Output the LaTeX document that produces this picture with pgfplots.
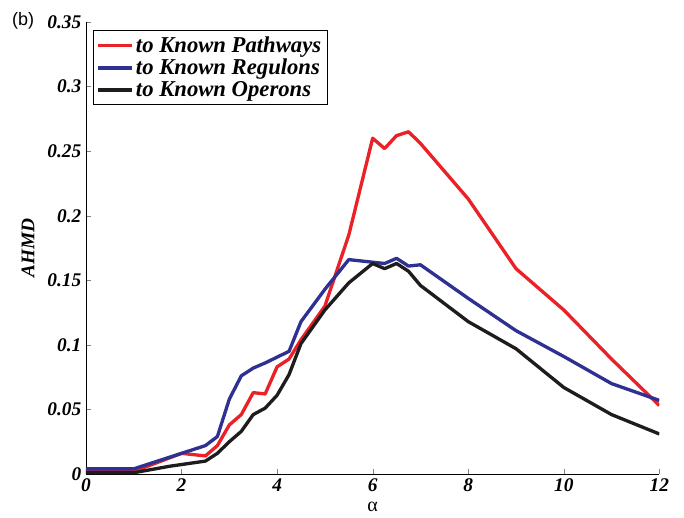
\documentclass[border=0pt]{standalone}
\usepackage{fontspec}
\setmainfont{Liberation Serif}
\newfontfamily\arial{Liberation Sans}
\usepackage{pgfplots}
\pgfplotsset{compat=1.18}
\definecolor{cred}{RGB}{234,34,40}
\definecolor{cblue}{RGB}{46,49,146}
\definecolor{cblack}{RGB}{30,28,28}

\begin{document}
\begin{tikzpicture}
\path[use as bounding box] (-64.5pt,-32.25pt) rectangle (448.5pt,355.5pt);
\begin{axis}[
    scale only axis,
    width=430pt, height=339pt,
    xmin=0, xmax=12, ymin=0, ymax=0.35,
    axis lines*=left,
    tick align=inside,
    major tick length=4pt,
    xtick={0,2,...,12},
    ytick={0,0.05,0.1,0.15,0.2,0.25,0.3,0.35},
    yticklabels={0,0.05,0.1,0.15,0.2,0.25,0.3,0.35},
    /pgf/number format/assume math mode=true,
    tick label style={font=\fontsize{14.5}{16}\selectfont\bfseries\itshape},
    xlabel={α},
    xlabel style={font=\fontsize{15}{16}\selectfont, yshift=-1pt},
    ylabel={AHMD},
    ylabel style={font=\fontsize{14.5}{16}\selectfont\bfseries\itshape, yshift=3pt},
    legend style={at={(0,1)}, anchor=north west, xshift=5pt, yshift=-6pt,
        draw=black, line width=1pt, font=\fontsize{17}{18.5}\selectfont\bfseries\itshape,
        row sep=-0.5pt, inner sep=2.5pt},
    legend cell align=left,
    legend image code/.code={\draw[#1] (0pt,0pt) -- (25pt,0pt);},
    every axis plot/.append style={line width=2.5pt, line join=round},
]
\addplot[cred] coordinates {
(0,0.002) (1,0.002) (2,0.016) (2.5,0.014) (2.75,0.022) (3,0.038) (3.25,0.046)
(3.5,0.063) (3.75,0.062) (4,0.083) (4.25,0.089) (4.5,0.104) (5,0.130) (5.5,0.185)
(6,0.260) (6.25,0.252) (6.5,0.262) (6.75,0.265) (7,0.256) (8,0.213) (9,0.159)
(10,0.127) (11,0.089) (12,0.053)
};
\addlegendentry{to Known Pathways}
\addplot[cblue] coordinates {
(0,0.004) (1,0.004) (1.75,0.013) (2.5,0.022) (2.75,0.029) (3,0.058) (3.25,0.076)
(3.5,0.082) (3.75,0.086) (4.25,0.095) (4.5,0.118) (5,0.143) (5.5,0.166)
(6.25,0.163) (6.5,0.167) (6.75,0.161) (7,0.162) (8,0.136) (9,0.111)
(10,0.091) (11,0.070) (12,0.057)
};
\addlegendentry{to Known Regulons}
\addplot[cblack] coordinates {
(0,0.001) (1,0.001) (1.75,0.006) (2.5,0.010) (2.75,0.016) (3,0.025) (3.25,0.033)
(3.5,0.046) (3.75,0.051) (4,0.061) (4.25,0.077) (4.5,0.101) (5,0.127) (5.5,0.148)
(6,0.163) (6.25,0.159) (6.5,0.163) (6.75,0.157) (7,0.146) (8,0.118) (9,0.097)
(10,0.067) (11,0.046) (12,0.031)
};
\addlegendentry{to Known Operons}
\end{axis}
\node[anchor=north west, font=\arial\fontsize{13.5}{15}\selectfont] at (-59pt,350pt) {(b)};
\end{tikzpicture}
\end{document}
